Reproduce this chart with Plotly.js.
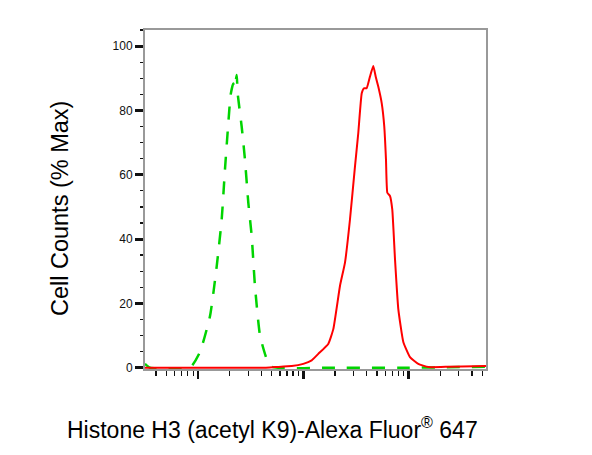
<!DOCTYPE html>
<html>
<head>
<meta charset="utf-8">
<script src="https://cdn.plot.ly/plotly-3.0.1.min.js"></script>
<style>html,body{margin:0;padding:0;background:#fff;}#chart{width:592px;height:455px;}</style>
</head>
<body>
<div id="chart"></div>
<script>
// Isotype control (green dashed) – fluorescence intensity vs % max
const controlX = [31.4, 35, 84, 104.5, 130, 150.7, 167.9, 180.3, 194.1, 204.6, 216.3, 222.3, 233.3, 238.2, 260, 279.3, 300.6, 323.6, 347.5, 388.2, 448.7, 501.2, 2000, 10000, 54300];
const controlY = [1.2, 0, 0, 4.9, 16, 31.6, 46, 61.5, 76, 85, 88.4, 87, 91, 85.3, 75, 64.7, 51.3, 41, 25.5, 10, 2.8, 0.3, 0, 0, 0.3];
// Histone H3 (acetyl K9) stained (red solid)
const sampleX = [31.4, 432, 538, 776, 1000, 1202, 1387, 1726, 1928, 2232, 2489, 2774, 3097, 3327, 3589, 3767, 3999, 4296, 4621, 4873, 5152, 5559, 5875, 6100, 6281, 6653, 6998, 7430, 7980, 8908, 10310, 12360, 15380, 24700, 54300];
const sampleY = [0, 0, 0.2, 0.5, 1.2, 2.3, 4.3, 7.4, 12, 25.5, 32.7, 46, 62.6, 72.9, 85.3, 86.9, 86.9, 90.5, 93.8, 90.5, 87.4, 82.2, 75, 64.7, 54.4, 53.4, 49.2, 33.7, 18.3, 8, 3.3, 1.2, 0.2, 0.3, 0.5];
const yTickVals = [0, 20, 40, 60, 80, 100];
const yTickText = ['0', '20', '40', '60', '80', '100'];
const xTitle = 'Histone H3 (acetyl K9)-Alexa Fluor<sup>®</sup> 647';
const yTitle = 'Cell Counts (% Max)';

const traces = [
  {x: controlX, y: controlY, type: 'scatter', mode: 'lines', line: {color: '#00d400', width: 2.5, dash: '13px,12px', shape: 'spline', smoothing: 0.5}, hoverinfo: 'skip'},
  {x: sampleX, y: sampleY, type: 'scatter', mode: 'lines', line: {color: '#ff0000', width: 2, shape: 'spline', smoothing: 0.4}, hoverinfo: 'skip'}
];

const font = 'Arial, "Liberation Sans", sans-serif';
const layout = {
  width: 592, height: 455,
  margin: {l: 145, r: 106, t: 30, b: 86, pad: 0},
  paper_bgcolor: '#fff', plot_bgcolor: '#fff',
  showlegend: false,
  font: {family: font, color: '#111'},
  xaxis: {
    type: 'log', range: [1.497, 4.735], autorange: false,
    showgrid: false, zeroline: false,
    showline: true, linecolor: '#999', linewidth: 2, mirror: true, layer: 'below traces',
    ticks: 'outside', ticklen: 8, tickwidth: 2.5, tickcolor: '#111', dtick: 1,
    showticklabels: false,
    minor: {ticks: 'outside', ticklen: 5, tickwidth: 1.3, tickcolor: '#111', dtick: 'D1', showgrid: false}
  },
  yaxis: {
    range: [-0.4, 105], autorange: false,
    showgrid: false, zeroline: false,
    showline: true, linecolor: '#999', linewidth: 2, mirror: true, layer: 'below traces',
    ticks: 'outside', ticklen: 8, tickwidth: 3, tickcolor: '#111',
    tickmode: 'array', tickvals: yTickVals, ticktext: yTickText,
    tickfont: {family: font, size: 12, color: '#111'},
    minor: {ticks: 'outside', ticklen: 3, tickwidth: 1.3, tickcolor: '#111', dtick: 5, showgrid: false}
  },
  annotations: [
    {text: xTitle, xref: 'paper', yref: 'paper', x: 0.375, y: -0.174, xanchor: 'center', yanchor: 'middle', showarrow: false, font: {family: font, size: 23, color: '#000'}},
    {text: yTitle, xref: 'paper', yref: 'paper', x: -0.249, y: 0.472, xanchor: 'center', yanchor: 'middle', textangle: -90, showarrow: false, font: {family: font, size: 23.5, color: '#000'}}
  ]
};
Plotly.newPlot('chart', traces, layout, {displayModeBar: false, staticPlot: true});
</script>
</body>
</html>
